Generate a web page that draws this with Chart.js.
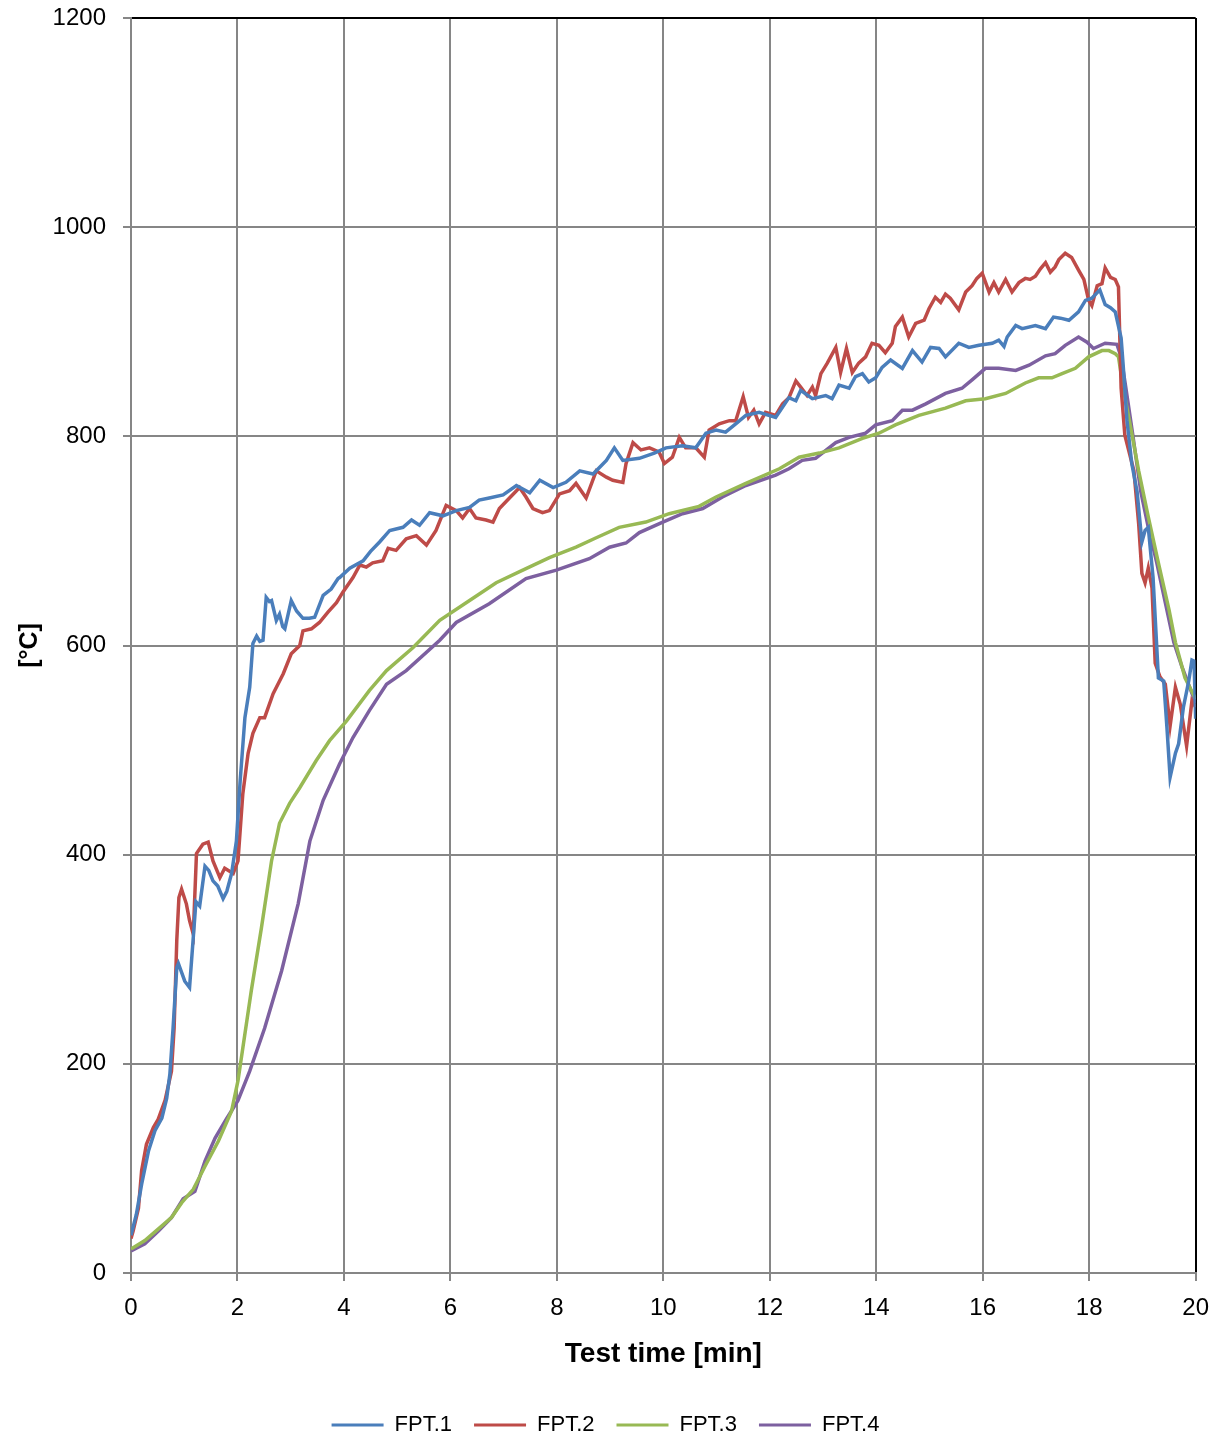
<!DOCTYPE html>
<html>
<head>
<meta charset="utf-8">
<script src="https://cdn.jsdelivr.net/npm/chart.js@4.4.0/dist/chart.umd.min.js"></script>
<style>
  html, body { margin: 0; padding: 0; background: #ffffff; }
  #wrap { width: 1222px; height: 1438px; }
</style>
</head>
<body>
<div id="wrap"><canvas id="c" width="1222" height="1438"></canvas></div>
<script>
// ---- Data (time in minutes, temperature in °C) ----
const seriesNames = ["FPT.1", "FPT.2", "FPT.3", "FPT.4"];

const fpt1Time = [0,0.1,0.2,0.33,0.45,0.58,0.67,0.73,0.79,0.86,0.89,1.01,1.1,1.17,1.22,1.29,1.39,1.46,1.54,1.63,1.73,1.8,1.89,1.98,2.05,2.14,2.23,2.29,2.36,2.42,2.48,2.54,2.6,2.64,2.73,2.79,2.85,2.89,3.01,3.11,3.23,3.35,3.45,3.61,3.76,3.89,3.92,4.11,4.36,4.5,4.67,4.86,5.11,5.27,5.42,5.61,5.86,6.11,6.36,6.54,6.73,6.99,7.24,7.49,7.68,7.93,8.17,8.43,8.68,8.93,9.08,9.24,9.55,9.83,10.05,10.36,10.61,10.8,10.99,11.17,11.36,11.55,11.8,12.11,12.36,12.49,12.58,12.8,13.05,13.17,13.3,13.49,13.61,13.74,13.86,13.99,14.11,14.27,14.49,14.68,14.86,15.02,15.18,15.3,15.55,15.74,15.93,16.18,16.3,16.4,16.46,16.62,16.74,16.99,17.18,17.33,17.46,17.62,17.8,17.93,18.05,18.2,18.3,18.4,18.49,18.6,18.64,18.71,18.8,18.9,18.99,19.05,19.11,19.2,19.3,19.4,19.46,19.52,19.62,19.68,19.77,19.87,19.93,19.97,20];
const fpt1Temp = [36,56,85,117,136,148,167,190,234,292,296,279,273,321,355,351,389,385,375,370,358,365,382,413,470,531,560,602,609,604,605,646,642,643,624,630,618,616,643,633,626,626,627,648,654,664,665,674,681,690,699,710,713,720,715,727,724,729,732,739,741,744,753,746,758,751,756,767,764,777,789,777,779,784,789,791,789,803,806,804,812,820,823,818,837,834,844,836,839,836,849,846,857,860,852,856,866,873,865,882,871,885,884,876,889,885,887,889,892,886,895,906,903,906,903,914,913,911,919,930,932,940,926,923,919,894,867,815,774,747,699,710,713,665,569,566,522,474,497,506,541,566,586,585,530];

const fpt2Time = [0,0.04,0.14,0.2,0.29,0.42,0.51,0.64,0.76,0.81,0.86,0.9,0.95,1.04,1.1,1.17,1.23,1.35,1.45,1.54,1.67,1.76,1.92,2.01,2.1,2.2,2.29,2.42,2.51,2.67,2.86,3.01,3.17,3.23,3.39,3.54,3.7,3.86,3.98,4.17,4.3,4.42,4.54,4.73,4.83,4.98,5.17,5.36,5.55,5.73,5.92,6.11,6.23,6.36,6.48,6.67,6.8,6.92,7.11,7.3,7.42,7.55,7.73,7.86,8.05,8.24,8.36,8.55,8.74,8.93,9.05,9.24,9.3,9.43,9.58,9.74,9.92,10.02,10.17,10.3,10.42,10.61,10.77,10.86,11.05,11.24,11.36,11.5,11.6,11.7,11.8,11.92,12.11,12.24,12.36,12.49,12.58,12.7,12.8,12.86,12.96,13.08,13.24,13.33,13.44,13.55,13.67,13.8,13.92,14.05,14.17,14.3,14.36,14.49,14.61,14.74,14.9,14.99,15.11,15.21,15.3,15.39,15.55,15.68,15.8,15.89,15.99,16.12,16.21,16.3,16.43,16.55,16.68,16.8,16.89,16.99,17.08,17.18,17.27,17.36,17.43,17.55,17.67,17.8,17.9,17.99,18.05,18.15,18.24,18.3,18.4,18.49,18.55,18.6,18.67,18.73,18.84,18.93,18.99,19.05,19.11,19.18,19.24,19.33,19.43,19.52,19.62,19.71,19.83,19.93,20];
const fpt2Temp = [33,40,62,98,123,139,147,165,193,234,318,359,367,353,337,324,401,410,412,394,378,387,382,394,458,497,516,531,531,554,573,592,600,614,616,622,632,641,651,665,677,675,679,681,693,691,702,705,696,710,734,729,722,731,722,720,718,731,741,751,742,731,727,729,745,748,755,741,767,761,758,756,774,794,787,789,785,774,780,799,789,789,780,806,812,815,815,838,818,825,812,823,820,831,837,853,847,839,847,839,860,870,885,861,884,861,870,876,889,887,880,889,905,914,895,908,911,922,933,928,936,932,921,938,944,951,956,938,947,938,950,938,947,951,950,953,960,966,957,962,969,975,971,959,950,930,925,944,946,961,952,950,943,846,801,789,767,716,669,660,674,655,583,570,563,523,560,544,504,547,541];

const fpt3Time = [0,0.26,0.51,0.76,0.95,1.17,1.39,1.64,1.89,2.01,2.1,2.26,2.45,2.64,2.79,2.98,3.17,3.48,3.73,4.05,4.48,4.8,5.3,5.8,6.36,6.86,7.36,7.86,8.36,8.74,9.17,9.67,10.11,10.67,10.99,11.55,12.18,12.55,12.93,13.3,13.74,14.05,14.36,14.8,15.3,15.68,16.05,16.43,16.8,17.05,17.3,17.49,17.74,17.99,18.24,18.37,18.49,18.55,18.64,18.77,18.93,19.11,19.3,19.5,19.62,19.8,20];
const fpt3Temp = [23,31,42,53,67,80,102,126,155,184,215,270,330,394,430,449,464,490,509,528,557,576,598,624,643,660,672,684,694,703,713,718,726,733,742,755,769,780,784,789,798,803,811,820,827,834,836,841,851,856,856,860,865,876,882,882,879,876,846,811,767,723,679,634,603,569,549];

const fpt4Time = [0,0.26,0.51,0.76,0.98,1.2,1.39,1.58,1.79,2.01,2.23,2.51,2.83,3.14,3.36,3.61,3.92,4.17,4.48,4.8,5.17,5.8,6.11,6.73,7.42,7.99,8.61,8.99,9.3,9.55,9.99,10.36,10.74,11.11,11.55,12.11,12.36,12.61,12.86,13.24,13.49,13.8,13.99,14.3,14.49,14.68,14.93,15.3,15.61,15.8,16.05,16.3,16.62,16.87,17.18,17.36,17.55,17.8,17.96,18.08,18.3,18.52,18.6,18.69,18.82,18.97,19.11,19.27,19.43,19.59,19.74,20];
const fpt4Temp = [21,28,40,53,71,78,107,129,147,165,193,234,289,353,413,452,487,512,538,563,576,605,622,640,664,672,683,694,698,708,718,726,731,742,753,763,769,777,779,794,799,803,811,815,825,825,831,841,846,854,865,865,863,868,877,879,887,895,890,884,889,888,876,846,801,747,713,679,641,603,580,545];

const xTicks = {min: 0, max: 20, step: 2};
const yTicks = {min: 0, max: 1200, step: 200};

const xTitle = "Test time [min]";
const yTitle = "[°C]";

const seriesColors = ["#4a7ebb", "#be4b48", "#98b954", "#7d60a0"];

// ---- Build chart ----
const times = [fpt1Time, fpt2Time, fpt3Time, fpt4Time];
const temps = [fpt1Temp, fpt2Temp, fpt3Temp, fpt4Temp];
const FONT = "'Liberation Sans', Arial, sans-serif";
const GRID = "#868686";

const datasets = seriesNames.map((name, k) => ({
  label: name,
  data: times[k].map((t, i) => ({x: t, y: temps[k][i]})),
  borderColor: seriesColors[k],
  backgroundColor: seriesColors[k],
  borderWidth: 3.5,
  pointRadius: 0,
  tension: 0,
  fill: false
}));

new Chart(document.getElementById('c'), {
  type: 'line',
  data: { datasets },
  options: {
    responsive: false,
    animation: false,
    devicePixelRatio: 1,
    layout: { padding: { top: 18, right: 25, left: 14, bottom: -8 } },
    plugins: {
      tooltip: { enabled: false },
      legend: {
        position: 'bottom',
        labels: {
          color: '#000',
          font: { family: FONT, size: 22 },
          boxWidth: 52,
          boxHeight: 3,
          padding: 22,
          generateLabels: (chart) => Chart.defaults.plugins.legend.labels.generateLabels(chart)
            .map(l => Object.assign(l, { lineWidth: 0 }))
        }
      }
    },
    scales: {
      x: {
        type: 'linear',
        min: xTicks.min, max: xTicks.max,
        afterFit: (s) => { s.height = 119; },
        ticks: { stepSize: xTicks.step, color: '#000', font: { family: FONT, size: 24 }, padding: 13, maxRotation: 0,
                 callback: (v) => String(v) },
        grid: {
          color: (ctx) => (ctx.tick && ctx.tick.value === xTicks.max) ? '#000' : GRID,
          lineWidth: 2, tickLength: 8, tickColor: GRID
        },
        border: { color: GRID, width: 2 },
        title: { display: true, text: xTitle, color: '#000', font: { family: FONT, size: 28, weight: 'bold' }, padding: { top: 0, bottom: 21 } }
      },
      y: {
        min: yTicks.min, max: yTicks.max,
        afterFit: (s) => { s.width = 117; s.paddingTop = 0; s.paddingBottom = 0; },
        ticks: { stepSize: yTicks.step, color: '#000', font: { family: FONT, size: 24 }, padding: 17,
                 callback: (v) => String(v) },
        grid: {
          color: (ctx) => (ctx.tick && ctx.tick.value === yTicks.max) ? '#000' : GRID,
          lineWidth: 2, tickLength: 8, tickColor: GRID
        },
        border: { color: GRID, width: 2 },
        title: { display: true, text: yTitle, color: '#000', font: { family: FONT, size: 25, weight: 'bold' }, padding: { top: 1, bottom: 0 } }
      }
    }
  }
});
</script>
</body>
</html>
